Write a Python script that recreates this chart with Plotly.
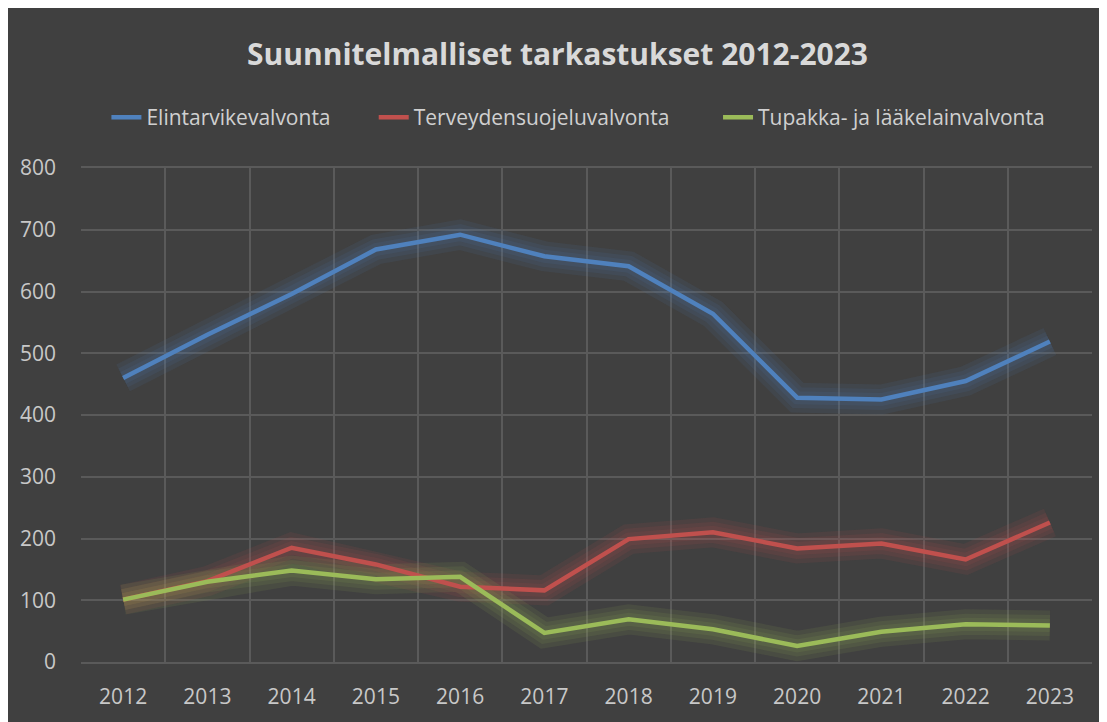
import plotly.graph_objects as go

# Data
years = ['2012', '2013', '2014', '2015', '2016', '2017', '2018', '2019', '2020', '2021', '2022', '2023']
elintarvike = [460, 530, 596, 668, 692, 657, 641, 564, 428, 425, 455, 519]
terveydensuojelu = [101, 131, 185, 158, 122, 116, 199, 210, 184, 192, 166, 226]
tupakka = [101, 130, 148, 134, 138, 47, 69, 53, 26, 49, 61, 59]

# trailing no-break spaces keep the legend items spaced like the original
series = [
    ('Elintarvikevalvonta' + '\u00a0' * 7, elintarvike, '#4F81BD', 'rgba(79,129,189,0.10)'),
    ('Terveydensuojeluvalvonta' + '\u00a0' * 8, terveydensuojelu, '#C0504D', 'rgba(192,80,77,0.10)'),
    ('Tupakka- ja lääkelainvalvonta', tupakka, '#9BBB59', 'rgba(155,187,89,0.10)'),
]

fig = go.Figure()

# soft glow under each line (like the Excel glow effect)
for name, vals, col, glow in series:
    for w in [30, 21, 13]:
        fig.add_trace(go.Scatter(x=years, y=vals, mode='lines', showlegend=False,
                                 hoverinfo='skip', line=dict(color=glow, width=w)))

for name, vals, col, glow in series:
    fig.add_trace(go.Scatter(x=years, y=vals, mode='lines', name=name,
                             line=dict(color=col, width=4.5)))

bg = '#404040'
grid = '#5A5A5A'

# page has an 8px body margin, so the figure is sized to fit the window
W, H = 1099, 714
fig.update_layout(
    width=W, height=H,
    paper_bgcolor=bg, plot_bgcolor=bg,
    margin=dict(l=73, r=15, t=160, b=55),
    font=dict(family='Open Sans, sans-serif', color='#C8C8C8'),
    title=dict(text='<b>Suunnitelmalliset tarkastukset 2012-2023</b>',
               x=0.5, xanchor='center', y=1 - 46 / H, yanchor='middle',
               font=dict(size=30, color='#D9D9D9')),
    legend=dict(orientation='h', x=0.492, xanchor='center', y=1.102, yanchor='middle',
                font=dict(size=21, color='#D0D0D0'), bgcolor='rgba(0,0,0,0)',
                tracegroupgap=0),
    showlegend=True,
)

fig.update_xaxes(type='category', range=[-0.5, 11.5], tickson='boundaries',
                 showgrid=True, gridcolor=grid, gridwidth=1.5,
                 showline=True, linecolor=grid, linewidth=1.5, mirror=True,
                 ticks='', tickfont=dict(size=21, color='#C8C8C8'), ticklabelstandoff=15)
fig.update_yaxes(range=[0, 800], dtick=100, showgrid=True, gridcolor=grid, gridwidth=1.5,
                 zeroline=False, showline=False, ticks='',
                 tickfont=dict(size=21, color='#C8C8C8'), ticklabelstandoff=24)

fig.write_html('out.html')
